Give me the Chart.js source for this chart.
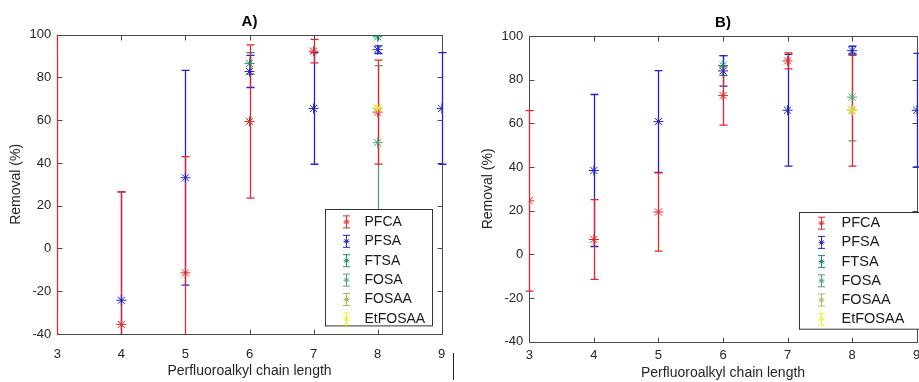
<!DOCTYPE html>
<html>
<head>
<meta charset="utf-8">
<script src="https://cdn.jsdelivr.net/npm/chart.js@4.4.0/dist/chart.umd.min.js"></script>
<style>
html, body { margin: 0; background: #fff; overflow: hidden; }
body { width: 919px; height: 382px; position: relative; }
.panel { position: absolute; top: 0; height: 382px; }
#panelA { left: 0; width: 460px; }
#panelB { left: 460px; width: 470px; }
#mark { position: absolute; left: 453px; top: 353px; width: 1px; height: 27px; background: #222; }
</style>
</head>
<body>
<div class="panel" id="panelA"><canvas id="chartA"></canvas></div>
<div class="panel" id="panelB"><canvas id="chartB"></canvas></div>
<div id="mark"></div>
<script>
const FONT = '"Liberation Sans", Arial, sans-serif'

// x positions shared by both panels
const chainLength = [3, 4, 5, 6, 7, 8, 9]
const groups = ["PFCA", "PFSA", "FTSA", "FOSA", "FOSAA", "EtFOSAA"]
const colours = ["#e3262b", "#2222d2", "#1f8a72", "#4fa56e", "#aeb45e", "#eeee30"]
const yTicks = [-40, -20, 0, 20, 40, 60, 80, 100]

// panel A) means and error half widths (null = no point)
const pfcaA     = [-55, -35.5, -11.4, 59.4, 92.3, 63.8, null]
const pfcaErrA  = [170, 62, 54.4, 35.8, 5.5, 24.3, null]
const pfsaA     = [null, -24.2, 33.1, 82.8, 65.5, 93, 65.5]
const pfsaErrA  = [null, 50.7, 50.2, 7.5, 26.1, 1.8, 26.1]
const ftsaA     = [null, null, null, 86.6, null, 99, null]
const ftsaErrA  = [null, null, null, 5, null, 0, null]
const fosaA     = [null, null, null, null, null, 49.5, null]
const fosaErrA  = [null, null, null, null, null, 36, null]
const fosaaA    = [null, null, null, null, null, 65.7, null]
const fosaaErrA = [null, null, null, null, null, 0, null]
const etA       = [null, null, null, null, null, 65.7, null]
const etErrA    = [null, null, null, null, null, 0, null]

// panel B)
const pfcaB     = [24.5, 6.8, 19.4, 72.7, 88.6, 66, null]
const pfcaErrB  = [41.3, 18.3, 17.9, 13.5, 3.7, 25.6, null]
const pfsaB     = [null, 38.4, 60.8, 84, 66, 93.3, 66]
const pfsaErrB  = [null, 34.8, 23.3, 7, 25.6, 2, 26]
const ftsaB     = [null, null, null, 86.5, null, null, null]
const ftsaErrB  = [null, null, null, 4.5, null, null, null]
const fosaB     = [null, null, null, null, null, 72, null]
const fosaErrB  = [null, null, null, null, null, 20, null]
const fosaaB    = [null, null, null, null, null, 66, null]
const fosaaErrB = [null, null, null, null, null, 0, null]
const etB       = [null, null, null, null, null, 66, null]
const etErrB    = [null, null, null, null, null, 0, null]

const toPoints = (vals, errs) =>
    chainLength.map((x, i) => vals[i] == null ? null : { x: x, y: vals[i], err: errs[i] }).filter(p => p)

const makeSets = (series) => series.map((s, i) => ({
    label: groups[i],
    data: toPoints(s[0], s[1]),
    borderColor: colours[i],
    backgroundColor: colours[i],
    pointStyle: "star",
    pointRadius: 5,
    borderWidth: 1,
    order: series.length - i,
}))

// axis box with inward ticks on all four sides (drawn first, under everything)
const frame = {
    id: "frame",
    beforeDraw(chart) {
        const { ctx, chartArea: a, scales: { x, y } } = chart
        const l = Math.round(a.left) + 0.5, r = Math.round(a.right) + 0.5
        const t = Math.round(a.top) + 0.5, b = Math.round(a.bottom) + 0.5
        ctx.save()
        ctx.strokeStyle = "#4a4a4a"
        ctx.lineWidth = 1
        ctx.strokeRect(l, t, r - l, b - t)
        ctx.beginPath()
        x.ticks.forEach(tk => {
            const px = Math.round(x.getPixelForValue(tk.value)) + 0.5
            ctx.moveTo(px, b); ctx.lineTo(px, b - 5)
            ctx.moveTo(px, t); ctx.lineTo(px, t + 5)
        })
        y.ticks.forEach(tk => {
            const py = Math.round(y.getPixelForValue(tk.value)) + 0.5
            ctx.moveTo(l, py); ctx.lineTo(l + 5, py)
            ctx.moveTo(r, py); ctx.lineTo(r - 5, py)
        })
        ctx.stroke()
        ctx.restore()
    }
}

// vertical error bars with caps, under the markers; first series ends on top
const errorBars = {
    id: "errorBars",
    beforeDatasetsDraw(chart) {
        const { ctx, chartArea: a, scales: { x, y } } = chart
        const clampY = v => Math.min(Math.max(v, a.top), a.bottom)
        ctx.save()
        ctx.lineWidth = 1.3
        chart.data.datasets.slice().reverse().forEach(ds => {
            ctx.strokeStyle = ds.borderColor
            ds.data.forEach(p => {
                if (!p.err) return
                const px = Math.round(x.getPixelForValue(p.x)) + 0.5
                const top = y.getPixelForValue(p.y + p.err)
                const bot = y.getPixelForValue(p.y - p.err)
                ctx.beginPath()
                ctx.moveTo(px, clampY(top)); ctx.lineTo(px, clampY(bot))
                if (top >= a.top) { ctx.moveTo(px - 4, top); ctx.lineTo(px + 4, top) }
                if (bot <= a.bottom) { ctx.moveTo(px - 4, bot); ctx.lineTo(px + 4, bot) }
                ctx.stroke()
            })
        })
        ctx.restore()
    }
}

// boxed legend inside the plot, bottom right
const boxLegend = {
    id: "boxLegend",
    afterDraw(chart, args, o) {
        const { ctx, chartArea: a } = chart
        const x0 = Math.round(a.right - o.fromRight) + 0.5
        const y0 = Math.round(a.bottom - o.fromBottom - o.height) + 0.5
        ctx.save()
        ctx.fillStyle = "#fff"
        ctx.fillRect(x0, y0, o.width, o.height)
        ctx.strokeStyle = "#333"
        ctx.lineWidth = 1
        ctx.strokeRect(x0, y0, o.width, o.height)
        ctx.font = o.size + "px " + FONT
        ctx.textBaseline = "middle"
        chart.data.datasets.forEach((ds, i) => {
            const cy = y0 + o.first + i * o.row
            const sx = Math.round(x0 + o.symX) + 0.5
            ctx.strokeStyle = ds.borderColor
            ctx.beginPath()
            ctx.moveTo(sx, cy - 6); ctx.lineTo(sx, cy + 6)
            ctx.moveTo(sx - 3.5, cy - 6); ctx.lineTo(sx + 3.5, cy - 6)
            ctx.moveTo(sx - 3.5, cy + 6); ctx.lineTo(sx + 3.5, cy + 6)
            ctx.stroke()
            Chart.helpers.drawPoint(ctx, { pointStyle: "star", radius: 3, borderWidth: 1 }, sx, cy)
            ctx.fillStyle = "#1a1a1a"
            ctx.fillText(ds.label, x0 + o.textX, cy)
        })
        ctx.restore()
    }
}

function makeChart(id, datasets, p) {
    return new Chart(document.getElementById(id), {
        type: "scatter",
        data: { datasets: datasets },
        options: {
            responsive: true,
            maintainAspectRatio: false,
            animation: false,
            layout: { padding: { top: 0, left: 0, bottom: 0, right: p.padRight } },
            plugins: {
                legend: { display: false },
                tooltip: { enabled: false },
                title: {
                    display: true,
                    text: p.title,
                    fullSize: false,
                    color: "#000",
                    font: { family: FONT, size: 15, weight: "bold", lineHeight: 1.2 },
                    padding: { top: p.titleTop, bottom: p.titleBottom },
                },
                boxLegend: p.legend,
            },
            scales: {
                x: {
                    type: "linear",
                    min: 3,
                    max: 9,
                    afterBuildTicks: s => { s.ticks = chainLength.map(v => ({ value: v })) },
                    afterFit: s => { s.height = p.xHeight },
                    grid: { display: false, drawTicks: false },
                    border: { display: false },
                    ticks: { color: "#262626", padding: p.xPad, font: { family: FONT, size: 13 } },
                    title: {
                        display: true,
                        text: "Perfluoroalkyl chain length",
                        color: "#262626",
                        font: { family: FONT, size: 14 },
                        padding: { top: 0, bottom: p.xTitlePad },
                    },
                },
                y: {
                    min: -40,
                    max: 100,
                    afterBuildTicks: s => { s.ticks = yTicks.map(v => ({ value: v })) },
                    afterFit: s => { s.width = p.yWidth },
                    grid: { display: false, drawTicks: false },
                    border: { display: false },
                    ticks: { color: "#262626", padding: 6, font: { family: FONT, size: 13 } },
                    title: {
                        display: true,
                        text: "Removal (%)",
                        color: "#262626",
                        font: { family: FONT, size: 14 },
                        padding: { top: p.yTitlePad, bottom: 0 },
                    },
                },
            },
        },
        plugins: [frame, errorBars, boxLegend],
    })
}

makeChart("chartA", makeSets([
    [pfcaA, pfcaErrA], [pfsaA, pfsaErrA], [ftsaA, ftsaErrA],
    [fosaA, fosaErrA], [fosaaA, fosaaErrA], [etA, etErrA],
]), {
    title: "A)", titleTop: 13, titleBottom: 3.7, padRight: 18.3,
    xHeight: 48, xPad: 12.5, xTitlePad: 2, yWidth: 57.3, yTitlePad: 8,
    legend: { fromRight: 116.7, fromBottom: 8.3, width: 107, height: 116.4, first: 12.4, row: 19.4, symX: 20, textX: 39, size: 14 },
})

makeChart("chartB", makeSets([
    [pfcaB, pfcaErrB], [pfsaB, pfsaErrB], [ftsaB, ftsaErrB],
    [fosaB, fosaErrB], [fosaaB, fosaaErrB], [etB, etErrB],
]), {
    title: "B)", titleTop: 13.5, titleBottom: 4.5, padRight: 13.3,
    xHeight: 40.3, xPad: 6, xTitlePad: 0, yWidth: 69.3, yTitlePad: 20,
    legend: { fromRight: 117.4, fromBottom: 12.7, width: 125, height: 116.7, first: 10.7, row: 19.2, symX: 21.7, textX: 42, size: 14.5 },
})
</script>
</body>
</html>
